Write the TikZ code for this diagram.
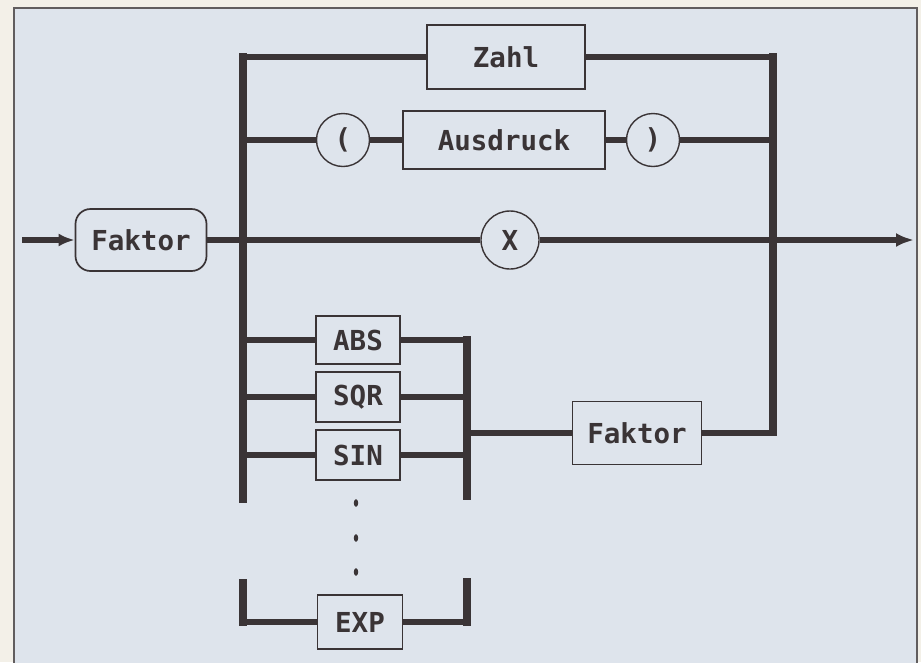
\documentclass[tikz,border=0pt]{standalone}
\usepackage{fontspec}
\setmonofont{DejaVu Sans Mono}
\definecolor{inkGrey}{RGB}{58,52,54}
\definecolor{paperBlue}{RGB}{222,228,236}
\definecolor{paperCream}{RGB}{243,240,232}
\usetikzlibrary{arrows.meta,positioning,calc}

\begin{document}
\begin{tikzpicture}[x=1pt,y=-1pt,
    termBox/.style={draw=inkGrey,line width=1.7pt,fill=paperBlue,text=inkGrey,
      font=\ttfamily\bfseries\fontsize{27.5}{29}\selectfont,inner sep=0pt},
    symCircle/.style={termBox,circle,line width=1.4pt,minimum size=53pt},
    busLine/.style={draw=inkGrey,line width=8.5pt},
    flowLine/.style={draw=inkGrey,line width=5.5pt,line join=miter}]
  % paper and frame
  \useasboundingbox (0,0) rectangle (921,662);
  \fill[paperCream] (0,0) rectangle (921,662);
  \filldraw[fill=paperBlue,draw=inkGrey!80,line width=2pt] (14,664) -- (14,8) -- (917,8) -- (917,664);
  % buses
  \coordinate (busL) at (243,0);
  \coordinate (busR) at (773,0);
  \coordinate (busF) at (467,0);
  \draw[busLine] (243,53) -- (243,503);
  \draw[busLine] (773,53) -- (773,436);
  \draw[busLine] (467,336) -- (467,500);
  \draw[busLine] (243,579) -- (243,626);
  \draw[busLine] (467,578) -- (467,626);
  % upper branches
  \node[termBox,minimum width=158pt,minimum height=64pt] (zahl) at (506,57) {Zahl};
  \node[symCircle] (lpar) at (343,140) {(};
  \node[termBox,minimum width=202pt,minimum height=58pt] (ausdruck) at (504,140) {Ausdruck};
  \node[symCircle] (rpar) at (653,140) {)};
  % main line
  \node[termBox,rounded corners=15pt,minimum width=131pt,minimum height=62pt] (faktorIn) at (141,240) {Faktor};
  \node[symCircle,minimum size=58pt] (mal) at (510,240) {X};
  \coordinate (start) at (22,240);
  \coordinate (ende) at (914,240);
  % functions
  \node[termBox,minimum width=84pt,minimum height=48pt] (abs) at (358,340) {ABS};
  \node[termBox,minimum width=84pt,minimum height=50pt] (sqr) at (358,397) {SQR};
  \node[termBox,minimum width=84pt,minimum height=50pt] (sin) at (358,455) {SIN};
  \node[termBox,minimum width=85pt,minimum height=54pt] (exp) at (360,622) {EXP};
  \node[termBox,minimum width=129pt,minimum height=63pt] (faktorOut) at (637,433) {Faktor};
  \foreach \y in {503,538,572}
    \fill[inkGrey] (356,\y) ellipse (2.2pt and 3.8pt);
  % connectors
  \draw[flowLine] (zahl.west -| busL) -- (zahl.west);
  \draw[flowLine] (zahl.east) -- (zahl.east -| busR);
  \draw[flowLine] (lpar.west -| busL) -- (lpar.west);
  \draw[flowLine] (lpar.east) -- (ausdruck.west);
  \draw[flowLine] (ausdruck.east) -- (rpar.west);
  \draw[flowLine] (rpar.east) -- (rpar.east -| busR);
  \draw[flowLine,-{Latex[length=16pt,width=13pt]}] (start) -- (faktorIn.west);
  \draw[flowLine] (faktorIn.east) -- (mal.west);
  \draw[flowLine,-{Latex[length=18pt,width=14pt]}] (mal.east) -- (ende);
  \draw[flowLine] (abs.west -| busL) -- (abs.west);
  \draw[flowLine] (abs.east) -- (abs.east -| busF);
  \draw[flowLine] (sqr.west -| busL) -- (sqr.west);
  \draw[flowLine] (sqr.east) -- (sqr.east -| busF);
  \draw[flowLine] (sin.west -| busL) -- (sin.west);
  \draw[flowLine] (sin.east) -- (sin.east -| busF);
  \draw[flowLine] (faktorOut.west -| busF) -- (faktorOut.west);
  \draw[flowLine] (faktorOut.east) -- (faktorOut.east -| busR);
  \draw[flowLine] (exp.west -| busL) -- (exp.west);
  \draw[flowLine] (exp.east) -- (exp.east -| busF);
\end{tikzpicture}
\end{document}
